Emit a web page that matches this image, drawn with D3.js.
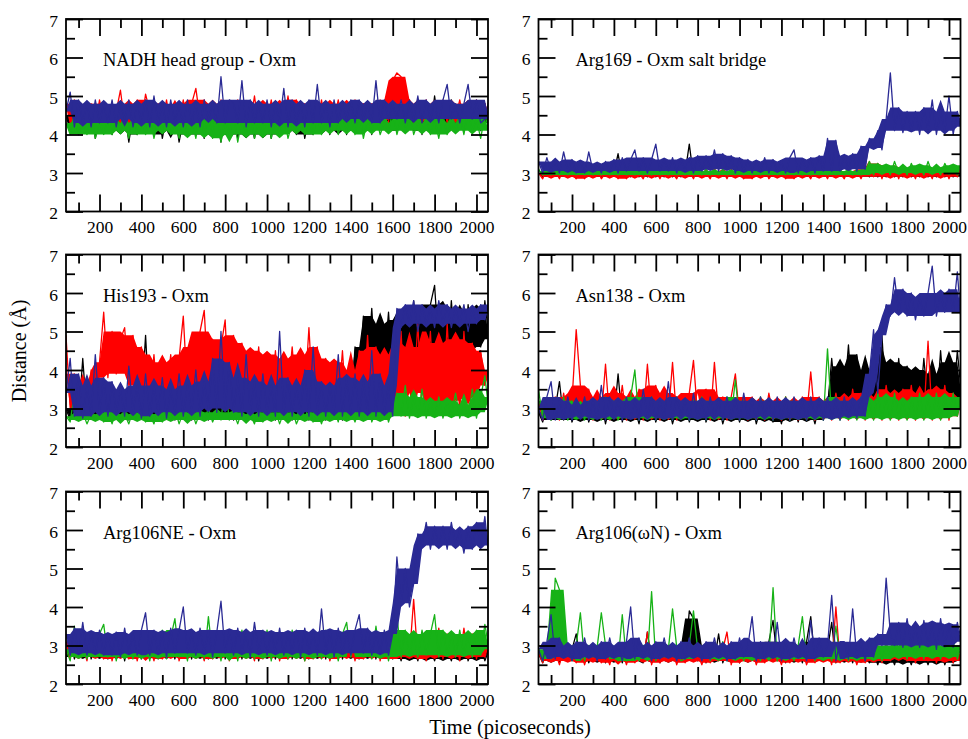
<!DOCTYPE html>
<html>
<head>
<meta charset="utf-8">
<script src="https://cdn.jsdelivr.net/npm/d3@7"></script>
<style>
  body { margin: 0; background: #fff; }
  text { font-family: "Liberation Serif", "Times New Roman", serif; }
</style>
</head>
<body>
<svg id="chart"></svg>
<script>
// traces are sampled every 20 ps starting at 40 ps
const T_START = 40, T_STEP = 20;
const X_DOMAIN = [40, 2055];
const Y_DOMAIN = [2, 7];
const X_MAJOR = [200, 400, 600, 800, 1000, 1200, 1400, 1600, 1800, 2000];
const X_MINOR = [100, 300, 500, 700, 900, 1100, 1300, 1500, 1700, 1900];
const Y_MAJOR = [2, 3, 4, 5, 6, 7];
const Y_MINOR = [2.5, 3.5, 4.5, 5.5, 6.5];

const TITLES = ["NADH head group - Oxm", "Arg169 - Oxm salt bridge", "His193 - Oxm",
                "Asn138 - Oxm", "Arg106NE - Oxm", "Arg106(\u03c9N) - Oxm"];
const SERIES_COLORS = ["#000000", "#ff0000", "#17b217", "#2a2a94"];

/********* NADH head group *********/
const NADH_BLACK = [4.5,4.1,4.6,4.0,4.4,4.2,4.7,3.9,4.5,4.1,
  4.6,4.0,4.4,4.1,4.6,3.8,4.5,4.0,4.6,4.1,
  4.4,4.0,4.7,3.9,4.5,4.1,4.6,3.8,4.4,4.0,
  4.6,4.0,4.5,3.9,4.7,4.0,4.4,3.8,4.6,4.0,
  4.5,3.9,4.6,4.0,4.4,3.9,4.6,4.0,4.5,3.9,
  4.6,4.0,4.4,4.1,4.6,4.0,4.7,3.9,4.5,4.0,
  4.6,4.1,4.5,4.0,4.7,4.1,4.5,4.0,4.6,4.1,
  4.8,4.1,4.6,4.0,4.7,4.2,4.5,4.1,4.8,4.1,
  4.6,4.2,4.9,4.1,4.6,4.0,4.8,4.1,5.0,4.2,
  4.7,4.1,4.9,4.2,4.6,4.1,4.8,4.2,4.7,4.1,
  4.8,4.3];
const NADH_RED = [4.8,4.3,4.9,4.2,4.7,4.3,4.8,4.2,4.9,4.3,
  4.7,4.2,4.6,5.15,4.3,4.8,4.2,4.9,4.3,5.05,
  4.6,4.2,4.8,4.3,4.9,4.2,4.7,4.3,4.9,4.2,
  4.8,5.2,4.4,4.9,4.3,4.8,4.2,4.9,4.3,4.8,
  4.3,4.9,4.2,4.8,4.3,5.0,4.2,4.8,4.3,4.9,
  4.2,4.8,4.3,5.0,4.2,4.9,4.3,4.8,4.2,4.7,
  4.3,4.9,4.2,4.8,4.4,4.9,4.3,4.8,4.2,4.9,
  4.3,4.8,4.4,4.8,4.3,4.9,4.4,4.3,5.4,5.6,
  5.5,4.4,4.9,4.3,4.8,4.4,4.9,4.3,4.8,4.4,
  4.9,4.3,4.8,4.4,4.9,4.3,4.8,4.4,4.9,4.3,
  4.8,4.4];
const NADH_GREEN = [4.3,4.0,4.6,4.0,4.4,4.0,4.5,3.9,4.3,4.0,
  4.4,4.0,4.5,4.1,4.3,3.9,4.6,4.0,4.4,4.0,
  4.5,3.9,4.4,4.1,4.6,4.0,4.3,3.9,4.5,4.0,
  4.4,3.9,4.6,4.0,4.5,3.9,4.7,3.8,4.4,4.0,
  4.5,3.8,4.4,4.0,4.5,3.9,4.3,4.0,4.5,3.9,
  4.4,4.0,4.5,3.9,4.3,4.1,4.6,4.0,4.4,4.0,
  4.5,4.0,4.3,4.1,4.6,4.0,4.4,4.1,4.5,4.0,
  4.6,3.9,4.4,4.1,4.5,4.0,4.3,4.1,4.6,4.0,
  4.4,4.1,4.6,4.0,4.3,4.1,4.5,4.0,4.4,3.9,
  4.5,4.0,4.3,4.1,4.5,4.0,4.6,4.1,4.4,3.9,
  4.5,4.1];
const NADH_BLUE = [4.6,5.1,4.2,4.9,4.3,4.8,4.2,4.9,4.3,4.8,
  4.3,4.9,4.2,4.8,4.4,4.9,4.2,4.8,4.3,4.9,
  4.2,5.0,4.3,4.8,4.2,4.9,4.3,4.8,4.2,4.9,
  4.3,4.8,4.2,4.9,4.4,4.8,4.3,5.5,4.3,4.9,
  4.8,4.3,5.4,4.2,4.9,4.3,4.8,4.3,4.9,4.2,
  4.8,4.3,5.2,4.2,4.9,4.3,4.8,4.2,4.9,4.3,
  5.3,4.3,4.8,4.2,4.9,4.3,4.8,4.4,4.9,4.3,
  4.9,4.4,4.8,4.3,5.4,4.3,4.9,4.4,4.8,4.4,
  4.9,4.3,4.8,4.4,5.0,4.3,4.9,4.4,4.8,4.3,
  4.9,5.3,4.4,4.8,4.3,4.8,5.3,4.4,4.9,4.3,
  4.4,4.9];

/********* Arg169 salt bridge *********/
const ARG169_BLACK = [3.0,2.9,3.05,2.9,3.1,2.9,3.0,2.9,3.05,2.9,
  3.0,2.9,3.1,2.9,3.0,2.9,3.05,2.9,3.0,3.5,
  2.9,3.05,2.9,3.1,2.9,3.0,2.9,3.05,2.9,3.1,
  2.9,3.0,2.9,3.05,2.9,3.0,3.75,2.9,3.05,2.9,
  3.0,2.9,3.1,2.9,3.0,2.9,3.05,2.9,3.1,2.9,
  3.05,2.9,3.0,2.9,3.1,2.9,3.0,2.9,3.05,2.9,
  3.0,2.9,3.1,2.9,3.05,2.9,3.0,2.9,3.1,2.9,
  3.05,2.9,3.0,2.9,3.1,2.9,3.05,2.9,3.0,2.9,
  3.1,2.9,3.05,2.9,3.0,2.9,3.1,2.9,3.05,2.9,
  3.0,2.9,3.1,2.9,3.05,2.9,3.0,2.9,3.1,2.9,
  3.0,2.9];
const ARG169_RED = [3.0,2.85,3.1,2.9,3.05,2.85,3.1,2.9,3.0,2.85,
  3.1,2.85,3.05,2.9,3.1,2.85,3.0,2.9,3.1,2.85,
  3.05,2.85,3.1,2.9,3.0,2.85,3.1,2.9,3.05,2.85,
  3.1,2.9,3.0,2.85,3.1,2.9,3.05,2.85,3.1,2.9,
  3.0,2.85,3.1,2.9,3.05,2.85,3.1,2.9,3.0,2.85,
  3.1,2.85,3.05,2.9,3.1,2.85,3.0,2.9,3.1,2.85,
  3.05,2.85,3.1,2.9,3.0,2.85,3.1,2.9,3.05,2.85,
  3.1,2.9,3.0,2.85,3.1,2.9,3.05,2.85,3.1,3.3,
  2.9,3.25,2.85,3.2,2.9,3.15,2.85,3.2,2.9,3.1,
  2.85,3.2,2.9,3.1,2.85,3.2,2.9,3.15,2.85,3.1,
  2.9,3.2];
const ARG169_GREEN = [3.1,2.95,3.05,2.95,3.1,2.95,3.05,2.95,3.1,2.95,
  3.05,2.95,3.1,2.95,3.05,2.95,3.1,2.95,3.05,2.95,
  3.1,2.95,3.05,2.95,3.1,2.95,3.05,2.95,3.1,2.95,
  3.05,2.95,3.1,2.95,3.05,2.95,3.1,2.95,3.05,2.95,
  3.1,2.95,3.05,2.95,3.1,2.95,3.05,2.95,3.1,2.95,
  3.05,2.95,3.1,2.95,3.05,2.95,3.1,2.95,3.05,2.95,
  3.1,2.95,3.05,2.95,3.1,2.95,3.05,2.95,3.1,2.95,
  3.05,2.95,3.1,2.95,3.05,2.95,3.1,2.95,3.05,3.3,
  2.95,3.25,3.0,3.2,2.95,3.3,3.0,3.15,2.95,3.25,
  3.0,3.2,2.95,3.3,3.0,3.15,2.95,3.25,3.0,3.2,
  2.95,3.25];
const ARG169_BLUE = [3.3,3.0,3.4,3.05,3.3,3.0,3.55,3.05,3.35,3.0,
  3.3,3.0,3.55,3.05,3.25,3.0,3.3,3.05,3.35,3.0,
  3.4,3.05,3.35,3.6,3.05,3.4,3.0,3.35,3.75,3.05,
  3.35,3.05,3.4,3.0,3.35,3.05,3.4,3.0,3.45,3.05,
  3.45,3.1,3.6,3.05,3.5,3.1,3.45,3.0,3.4,3.05,
  3.35,3.0,3.3,3.05,3.4,3.0,3.35,3.05,3.3,3.0,
  3.4,3.6,3.0,3.35,3.05,3.4,3.0,3.45,3.05,3.9,
  3.05,3.85,3.05,3.45,3.1,3.5,3.05,3.7,3.1,3.9,
  3.65,4.1,3.6,4.4,5.6,4.1,4.7,4.05,4.6,4.1,
  4.6,4.0,4.7,4.1,4.9,4.0,4.6,4.1,5.0,4.0,
  4.6,4.2];

/********* His193 *********/
const HIS193_BLACK = [3.0,2.7,3.2,2.75,4.3,2.8,3.1,2.7,3.0,2.75,
  3.1,2.7,3.0,2.8,3.2,2.7,3.0,2.75,3.1,4.9,
  2.8,3.0,2.7,3.1,2.75,3.0,2.7,3.2,2.8,3.0,
  2.7,3.1,2.8,3.0,2.7,4.6,2.8,3.1,2.75,3.0,
  2.7,3.1,2.8,3.0,2.75,3.2,2.7,3.0,2.8,3.1,
  2.7,3.0,2.8,3.1,2.7,3.0,2.75,3.2,2.7,3.0,
  2.8,3.1,2.7,3.0,2.8,3.2,2.7,3.1,2.8,4.6,
  3.6,5.4,4.0,5.6,3.8,5.2,4.2,5.5,3.9,5.3,
  4.4,5.6,4.0,5.8,4.3,5.5,4.1,5.7,6.2,4.5,
  5.6,4.2,5.8,4.4,5.5,4.0,5.7,4.5,5.6,4.6,
  5.8,4.8];
const HIS193_RED = [4.9,3.0,3.9,2.8,3.6,2.9,4.0,3.2,4.2,5.5,
  3.8,5.0,3.9,4.8,5.1,3.6,4.9,3.4,4.6,3.3,
  3.2,4.4,3.0,4.2,3.3,4.4,3.1,4.3,5.4,3.4,
  4.6,3.3,5.0,5.55,3.5,4.8,3.2,4.6,5.3,3.0,
  4.9,3.2,4.7,3.0,4.5,3.3,4.6,3.1,4.4,3.2,
  4.5,3.2,4.3,3.4,4.6,3.2,4.4,3.3,5.1,3.1,
  4.6,3.0,4.3,2.9,4.2,3.1,4.5,2.9,4.0,3.0,
  4.5,3.1,4.9,3.0,4.6,3.2,4.4,3.0,4.7,3.1,
  5.0,2.8,4.6,3.4,5.2,2.9,3.8,5.0,2.9,4.7,
  3.0,5.2,3.2,4.8,2.9,5.0,3.3,4.7,3.1,4.5,
  3.6,4.0];
const HIS193_GREEN = [2.8,2.65,3.4,2.7,2.9,2.6,2.85,2.7,2.95,2.65,
  2.9,2.6,3.0,2.7,2.85,2.6,2.95,2.7,2.9,2.65,
  2.85,2.6,3.0,2.65,2.9,2.7,3.0,2.6,2.9,2.7,
  2.95,2.6,2.9,2.7,3.0,2.65,2.9,2.7,3.6,2.7,
  2.9,2.6,2.95,2.7,2.85,2.6,3.0,2.65,2.9,2.7,
  2.95,2.6,2.9,2.7,3.0,2.6,2.85,2.7,3.1,2.65,
  2.9,2.6,2.95,2.7,3.0,2.65,3.2,2.7,2.9,2.65,
  3.0,2.7,3.3,2.65,2.95,2.7,3.1,2.65,3.0,3.4,
  2.8,3.6,2.75,3.3,2.8,3.5,2.75,3.2,2.8,3.3,
  2.75,3.2,2.8,3.4,2.75,3.1,2.8,3.5,2.75,3.3,
  3.85,2.9];
const HIS193_BLUE = [3.4,4.3,2.8,3.9,2.75,3.6,2.8,4.4,2.9,3.8,
  2.8,3.7,2.9,3.5,2.8,4.1,2.9,3.6,2.75,3.9,
  2.8,3.6,2.9,3.8,2.75,3.5,2.9,3.9,2.8,3.6,
  2.9,4.0,2.8,3.7,3.0,4.3,2.9,5.0,3.0,4.2,
  2.9,3.8,2.8,4.4,2.9,3.7,2.8,3.9,2.9,3.6,
  2.8,5.0,2.9,3.8,2.8,3.6,2.9,4.0,2.8,4.6,
  2.9,3.7,2.8,3.6,2.9,4.4,2.8,3.8,2.9,3.9,
  2.8,3.7,2.9,4.5,2.8,3.9,2.9,3.6,2.8,5.6,
  5.1,5.7,5.2,5.8,5.0,5.7,5.2,5.6,5.1,5.8,
  5.2,5.7,5.1,5.6,5.2,5.7,5.0,5.6,5.2,5.7,
  5.3,5.8];

/********* Asn138 *********/
const ASN138_BLACK = [2.9,2.65,3.1,2.7,3.0,3.7,2.7,3.1,2.65,3.0,
  2.7,3.1,2.65,3.0,2.7,3.2,2.6,3.1,2.7,3.9,
  2.65,3.1,2.7,3.0,2.6,3.2,2.7,3.1,2.65,3.0,
  2.7,3.1,2.6,3.0,2.7,3.2,2.65,3.0,2.7,3.1,
  2.65,3.0,2.7,3.1,2.6,3.0,2.7,3.1,2.65,3.0,
  2.7,3.1,2.6,3.0,2.7,3.1,2.65,3.0,2.6,3.1,
  2.7,3.0,2.65,3.1,2.7,3.0,2.6,3.1,2.7,3.0,
  4.3,3.2,4.1,3.3,4.65,3.1,4.4,3.2,4.0,3.1,
  4.6,3.3,4.9,3.0,4.2,3.1,4.3,3.0,4.1,3.2,
  4.0,3.0,4.3,3.1,3.9,3.0,4.5,3.1,4.2,3.2,
  4.5,3.3];
const ASN138_RED = [3.2,2.7,3.1,2.8,3.3,2.7,3.4,2.8,3.2,5.05,
  3.6,2.8,3.5,2.7,3.3,2.8,4.15,2.7,3.4,2.8,
  3.6,2.7,3.3,2.8,3.5,2.7,4.15,2.8,3.6,2.7,
  3.4,2.8,4.2,2.7,3.3,2.8,3.4,4.25,2.8,3.4,
  3.5,2.7,4.2,2.8,3.3,2.7,3.3,3.9,2.8,3.3,
  2.7,3.3,2.8,3.2,2.7,3.4,2.8,3.2,2.7,3.3,
  2.8,3.2,2.7,3.3,2.8,3.95,2.7,3.3,2.8,3.2,
  2.7,3.4,2.8,3.3,2.7,3.5,2.8,3.4,2.7,3.3,
  2.8,3.5,2.7,3.6,2.8,3.4,2.7,3.5,2.8,3.6,
  2.7,3.4,2.8,4.75,2.7,3.5,2.8,3.6,2.7,3.4,
  2.8,3.3];
const ASN138_GREEN = [3.5,2.75,3.2,2.7,3.1,2.75,3.3,2.7,3.2,2.75,
  3.1,2.7,3.2,2.75,3.1,2.7,3.3,2.75,3.2,2.7,
  3.1,2.75,3.3,4.0,2.7,3.2,2.75,3.3,2.7,3.1,
  2.75,3.2,2.7,3.3,2.75,3.1,2.7,3.2,2.75,3.3,
  2.7,3.2,2.75,3.1,2.7,3.3,2.75,3.75,2.7,3.2,
  2.75,3.1,2.7,3.3,2.75,3.2,2.7,3.1,2.75,3.3,
  2.7,3.2,2.75,3.1,2.7,3.2,2.75,3.1,2.7,4.55,
  2.75,3.3,2.7,3.2,2.75,3.1,2.7,3.3,2.75,3.2,
  2.7,3.4,2.75,3.3,2.7,3.4,2.75,3.2,2.7,3.3,
  2.75,3.4,2.7,3.3,2.75,3.4,2.7,3.3,2.75,3.4,
  2.8,3.3];
const ASN138_BLUE = [3.0,2.7,3.3,3.7,2.7,3.2,2.75,3.3,2.7,3.1,
  2.8,3.3,2.7,3.2,2.75,3.6,2.7,3.3,2.8,3.2,
  2.7,3.3,2.75,3.2,2.7,3.5,2.8,3.3,2.7,3.2,
  2.75,3.7,2.7,3.3,2.8,3.2,2.7,3.4,2.75,3.2,
  2.7,3.3,2.8,3.2,2.7,3.3,2.75,3.2,2.7,3.4,
  2.75,3.2,2.7,3.3,2.8,3.2,2.7,3.3,2.75,3.2,
  2.7,3.3,2.75,3.2,2.7,3.3,2.8,3.2,2.7,3.3,
  2.75,3.2,2.7,3.3,2.8,3.2,2.75,3.3,2.8,3.9,
  5.05,3.4,4.9,5.7,5.4,6.4,5.5,6.1,5.4,6.0,
  5.3,5.9,5.4,6.0,6.7,5.4,6.0,5.5,6.1,5.5,
  6.55,5.1];

/********* Arg106NE *********/
const ARG106NE_BLACK = [2.7,3.2,2.65,3.1,2.7,3.3,2.65,3.0,2.7,3.2,
  2.65,3.1,2.7,3.3,2.6,3.2,2.7,3.1,2.65,3.3,
  2.7,3.2,2.65,3.1,2.7,3.0,2.65,3.2,2.7,3.1,
  2.65,3.3,2.7,3.1,2.65,3.2,2.7,3.3,2.65,3.1,
  2.7,3.2,2.65,3.1,2.7,3.3,2.6,3.2,2.7,3.0,
  2.65,3.1,2.7,3.2,2.65,3.3,2.7,3.1,2.65,3.2,
  2.7,3.3,2.65,3.1,2.7,3.2,2.65,3.0,2.7,3.1,
  2.65,3.2,2.7,3.1,2.65,3.3,2.7,3.2,2.65,3.0,
  2.6,3.0,2.65,2.9,2.6,3.1,2.65,2.9,2.6,3.0,
  2.65,2.9,2.6,3.0,2.65,3.1,2.6,2.9,2.65,3.0,
  2.6,2.9];
const ARG106NE_RED = [3.1,2.65,3.3,2.7,3.0,2.6,3.2,2.7,3.1,2.65,
  3.2,2.6,3.1,2.7,3.3,2.65,3.1,2.6,3.2,2.7,
  3.0,2.6,3.2,2.65,3.1,2.7,3.3,2.6,3.1,2.65,
  3.2,2.7,3.0,2.6,3.2,2.65,3.1,2.7,3.3,2.6,
  3.1,2.65,3.2,2.7,3.0,2.6,3.3,2.65,3.1,2.7,
  3.2,2.6,3.1,2.65,3.3,2.7,3.0,2.6,3.2,2.65,
  3.1,2.7,3.2,2.6,3.0,2.65,3.3,2.7,3.1,2.6,
  3.2,2.65,3.1,2.7,3.3,2.6,3.2,2.65,3.1,3.3,
  2.65,3.2,2.7,4.2,2.65,3.3,2.6,3.2,2.7,3.45,
  2.65,3.3,2.7,3.2,2.6,3.45,2.7,3.3,2.65,3.2,
  2.7,3.1];
const ARG106NE_GREEN = [2.9,2.6,3.5,2.7,3.2,2.65,3.1,2.7,3.3,3.55,
  2.7,3.2,2.6,3.3,2.7,3.1,2.65,3.3,2.7,3.2,
  2.6,3.3,2.7,3.4,2.65,3.2,3.7,2.7,3.3,2.6,
  3.4,2.7,3.3,2.65,3.75,2.7,3.2,2.6,3.3,2.7,
  3.2,2.6,3.4,2.7,3.3,2.65,3.2,2.7,3.4,2.6,
  3.3,2.7,3.2,2.65,3.4,2.7,3.3,2.6,3.2,2.7,
  3.3,2.65,3.4,2.7,3.2,2.6,3.3,3.6,2.7,3.2,
  3.4,2.7,3.3,2.65,3.5,2.7,3.2,2.6,3.3,3.8,
  2.7,3.4,2.75,3.3,2.7,3.4,2.75,3.3,3.8,2.7,
  3.4,2.75,3.3,2.7,3.4,2.75,3.3,2.7,3.4,2.75,
  3.55,2.9];
const ARG106NE_BLUE = [3.3,2.75,3.45,2.8,3.6,2.75,3.35,2.8,3.4,2.75,
  3.3,2.75,3.35,2.7,3.45,2.8,3.3,2.75,3.4,3.85,
  2.75,3.4,2.8,3.35,2.7,3.45,2.8,3.4,4.0,2.8,
  3.35,2.75,3.45,2.8,3.4,2.7,3.35,4.15,2.8,3.4,
  2.75,3.45,2.8,3.35,2.7,3.6,2.8,3.4,2.75,3.35,
  2.8,3.45,2.75,3.35,2.8,3.4,2.7,3.45,2.8,3.35,
  2.75,3.95,2.8,3.4,2.7,3.45,2.8,3.35,2.75,3.4,
  3.8,2.8,3.45,2.75,3.35,2.8,3.4,2.75,3.3,5.3,
  4.1,5.0,4.0,4.6,5.9,5.6,6.2,5.5,6.1,5.6,
  6.1,5.5,6.2,5.6,6.0,5.4,6.1,5.5,6.2,5.6,
  6.35,5.2];

/********* Arg106 (omega N) *********/
const ARG106WN_BLACK = [2.8,2.55,2.9,2.6,2.85,2.55,3.0,2.6,2.9,3.3,
  2.6,2.9,2.55,2.85,2.6,3.0,2.55,2.9,2.6,2.85,
  2.55,3.0,2.6,2.9,2.6,2.55,3.35,2.6,2.9,2.55,
  2.9,2.6,3.0,2.55,2.9,2.6,3.9,3.7,2.6,3.0,
  2.55,2.9,2.6,3.3,2.55,2.9,2.6,3.0,2.55,2.9,
  2.6,3.0,2.55,2.9,2.6,3.1,3.65,2.6,2.9,2.55,
  3.0,2.6,2.9,2.55,3.1,3.75,2.6,2.9,2.6,2.9,
  3.6,2.55,3.0,2.6,2.9,2.55,3.0,2.6,2.9,2.55,
  2.85,2.5,2.9,2.55,2.8,2.5,2.9,2.55,2.8,2.5,
  2.9,2.55,2.8,2.5,2.85,2.55,2.9,2.5,2.8,2.55,
  2.85,2.6];
const ARG106WN_RED = [2.8,2.55,2.9,2.6,2.85,2.5,2.9,2.6,2.8,2.55,
  2.9,2.5,2.85,2.6,2.9,2.55,2.8,2.5,2.9,2.6,
  2.85,2.5,2.9,2.55,2.8,2.6,3.35,2.5,2.9,2.55,
  2.8,2.6,2.9,2.5,2.85,2.55,2.9,2.6,2.8,2.5,
  2.9,2.55,2.85,2.6,2.9,3.35,2.5,2.9,2.55,2.8,
  2.6,2.9,2.5,2.85,2.55,2.9,2.6,2.8,2.5,2.9,
  2.55,2.85,2.6,2.9,2.5,2.8,2.55,2.9,2.6,2.85,
  2.5,4.0,2.55,2.9,2.6,2.85,2.5,2.9,2.55,2.8,
  2.6,2.9,2.55,3.0,2.6,2.9,2.65,3.1,2.6,3.0,
  2.55,2.9,3.3,2.6,3.0,2.55,2.9,2.6,3.0,2.55,
  2.9,2.6];
const ARG106WN_GREEN = [2.9,2.6,3.0,2.65,4.75,4.45,2.7,2.95,2.6,3.0,
  3.85,2.6,3.0,2.7,2.95,3.85,3.0,2.65,2.9,2.6,
  3.8,2.6,2.65,2.9,2.6,3.0,2.65,4.4,2.6,3.0,
  2.7,2.9,3.95,2.95,2.6,2.65,3.0,3.9,2.9,2.65,
  3.0,2.6,2.9,2.65,3.1,2.6,2.95,2.65,3.0,2.6,
  2.9,2.65,3.0,2.6,2.95,2.7,4.5,2.6,3.0,2.65,
  2.9,2.6,3.0,3.75,2.65,2.95,2.6,3.1,2.65,2.9,
  2.6,3.5,2.65,3.0,2.6,2.9,2.65,3.0,2.6,2.95,
  2.65,3.0,2.6,3.1,2.65,3.0,2.7,3.1,2.65,3.2,
  2.7,3.1,2.65,3.2,2.7,3.1,2.65,3.0,2.7,3.1,
  2.65,3.0];
const ARG106WN_BLUE = [2.9,2.6,3.1,3.8,2.65,3.2,2.7,3.0,2.6,3.1,
  2.65,3.2,2.7,3.0,2.6,3.1,2.65,3.2,2.7,3.0,
  2.6,3.1,4.0,2.65,3.2,2.7,3.0,2.6,3.1,2.65,
  3.2,2.7,3.0,2.6,3.1,2.65,3.2,2.7,3.0,2.6,
  3.1,2.65,3.2,2.7,3.0,2.6,3.1,2.65,3.2,2.7,
  3.0,3.75,2.6,3.1,2.65,3.1,2.7,3.6,2.6,3.1,
  2.65,3.2,2.7,3.0,2.6,3.65,2.65,3.2,2.7,3.0,
  4.3,2.6,3.1,3.1,2.65,3.95,2.7,3.1,2.6,3.2,
  2.7,3.3,3.0,4.75,3.3,3.0,3.6,2.95,3.7,3.0,
  3.5,2.95,3.65,3.0,3.6,2.9,3.7,3.0,3.55,2.95,
  3.6,3.1];

const PANELS = [
  [NADH_BLACK, NADH_RED, NADH_GREEN, NADH_BLUE],
  [ARG169_BLACK, ARG169_RED, ARG169_GREEN, ARG169_BLUE],
  [HIS193_BLACK, HIS193_RED, HIS193_GREEN, HIS193_BLUE],
  [ASN138_BLACK, ASN138_RED, ASN138_GREEN, ASN138_BLUE],
  [ARG106NE_BLACK, ARG106NE_RED, ARG106NE_GREEN, ARG106NE_BLUE],
  [ARG106WN_BLACK, ARG106WN_RED, ARG106WN_GREEN, ARG106WN_BLUE]
];

/********* layout *********/
var width = 968, height = 739;
var COL_X = [66, 538.5], PANEL_W = 422;
var ROW_Y = [19, 254.5, 491.5], PANEL_H = 192.5;
var MAJOR = 17, MINOR = 9;

var svg = d3.select("#chart").attr("width", width).attr("height", height);

var x = d3.scaleLinear().domain(X_DOMAIN).range([0, PANEL_W]);
var y = d3.scaleLinear().domain(Y_DOMAIN).range([PANEL_H, 0]);

var line = d3.line()
  .x(function(d, i) { return x(T_START + i * T_STEP); })
  .y(function(d) { return y(d); });

// dense body of a noisy trace: 2nd lowest to 2nd highest sample of a
// 5 sample window, so isolated spikes stay thin lines on top of it
function bandOf(vals) {
  return vals.map(function(v, i) {
    var w = vals.slice(Math.max(0, i - 2), i + 3).sort(d3.ascending);
    return [w[1], w[w.length - 2]];
  });
}
var area = d3.area()
  .x(function(d, i) { return x(T_START + i * T_STEP); })
  .y0(function(d) { return y(d[0]); })
  .y1(function(d) { return y(d[1]); });

function addAxis(g, axis, transform) {
  var a = g.append("g").attr("transform", transform).call(axis);
  a.select(".domain").remove();
  a.selectAll("line").attr("stroke", "#000").attr("stroke-width", 1.8);
  a.selectAll("text")
    .attr("fill", "#000")
    .style("font-family", '"Liberation Serif", "Times New Roman", serif')
    .style("font-size", "17.5px");
  a.attr("font-family", null).attr("font-size", null);
  return a;
}

PANELS.forEach(function(series, p) {
  var g = svg.append("g")
    .attr("transform", "translate(" + COL_X[p % 2] + "," + ROW_Y[Math.floor(p / 2)] + ")");

  g.append("clipPath").attr("id", "clip" + p)
    .append("rect").attr("width", PANEL_W).attr("height", PANEL_H);

  var plot = g.append("g").attr("clip-path", "url(#clip" + p + ")");
  series.forEach(function(vals, s) {
    plot.append("path")
      .datum(bandOf(vals))
      .attr("d", area)
      .attr("fill", SERIES_COLORS[s])
      .attr("stroke", "none");
    plot.append("path")
      .datum(vals)
      .attr("d", line)
      .attr("fill", "none")
      .attr("stroke", SERIES_COLORS[s])
      .attr("stroke-width", 1.3)
      .attr("stroke-linejoin", "round");
  });

  // x ticks, bottom with labels, top mirrored
  addAxis(g, d3.axisBottom(x).tickValues(X_MAJOR).tickSizeInner(-MAJOR).tickSizeOuter(0)
    .tickPadding(9.5).tickFormat(d3.format("d")), "translate(0," + PANEL_H + ")");
  addAxis(g, d3.axisBottom(x).tickValues(X_MINOR).tickSize(-MINOR).tickFormat(""), "translate(0," + PANEL_H + ")");
  addAxis(g, d3.axisTop(x).tickValues(X_MAJOR).tickSize(-MAJOR).tickFormat(""), "translate(0,0)");
  addAxis(g, d3.axisTop(x).tickValues(X_MINOR).tickSize(-MINOR).tickFormat(""), "translate(0,0)");

  // y ticks, left with labels, right mirrored
  var left = addAxis(g, d3.axisLeft(y).tickValues(Y_MAJOR).tickSizeInner(-MAJOR).tickSizeOuter(0)
    .tickPadding(8).tickFormat(d3.format("d")), "translate(0,0)");
  left.selectAll("text").attr("dy", "0.42em");
  addAxis(g, d3.axisLeft(y).tickValues(Y_MINOR).tickSize(-MINOR).tickFormat(""), "translate(0,0)");
  addAxis(g, d3.axisRight(y).tickValues(Y_MAJOR).tickSize(-MAJOR).tickFormat(""), "translate(" + PANEL_W + ",0)");
  addAxis(g, d3.axisRight(y).tickValues(Y_MINOR).tickSize(-MINOR).tickFormat(""), "translate(" + PANEL_W + ",0)");

  g.append("rect")
    .attr("width", PANEL_W).attr("height", PANEL_H)
    .attr("fill", "none").attr("stroke", "#000").attr("stroke-width", 1.8);

  g.append("text")
    .attr("x", 37).attr("y", 47)
    .style("font-size", "18.5px")
    .attr("fill", "#000")
    .text(TITLES[p]);
});

svg.append("text")
  .attr("transform", "translate(26," + 351 + ") rotate(-90)")
  .style("text-anchor", "middle")
  .style("font-size", "20px")
  .text("Distance (\u00c5)");

svg.append("text")
  .attr("x", 510).attr("y", 734)
  .style("text-anchor", "middle")
  .style("font-size", "20.5px")
  .text("Time (picoseconds)");
</script>
</body>
</html>
